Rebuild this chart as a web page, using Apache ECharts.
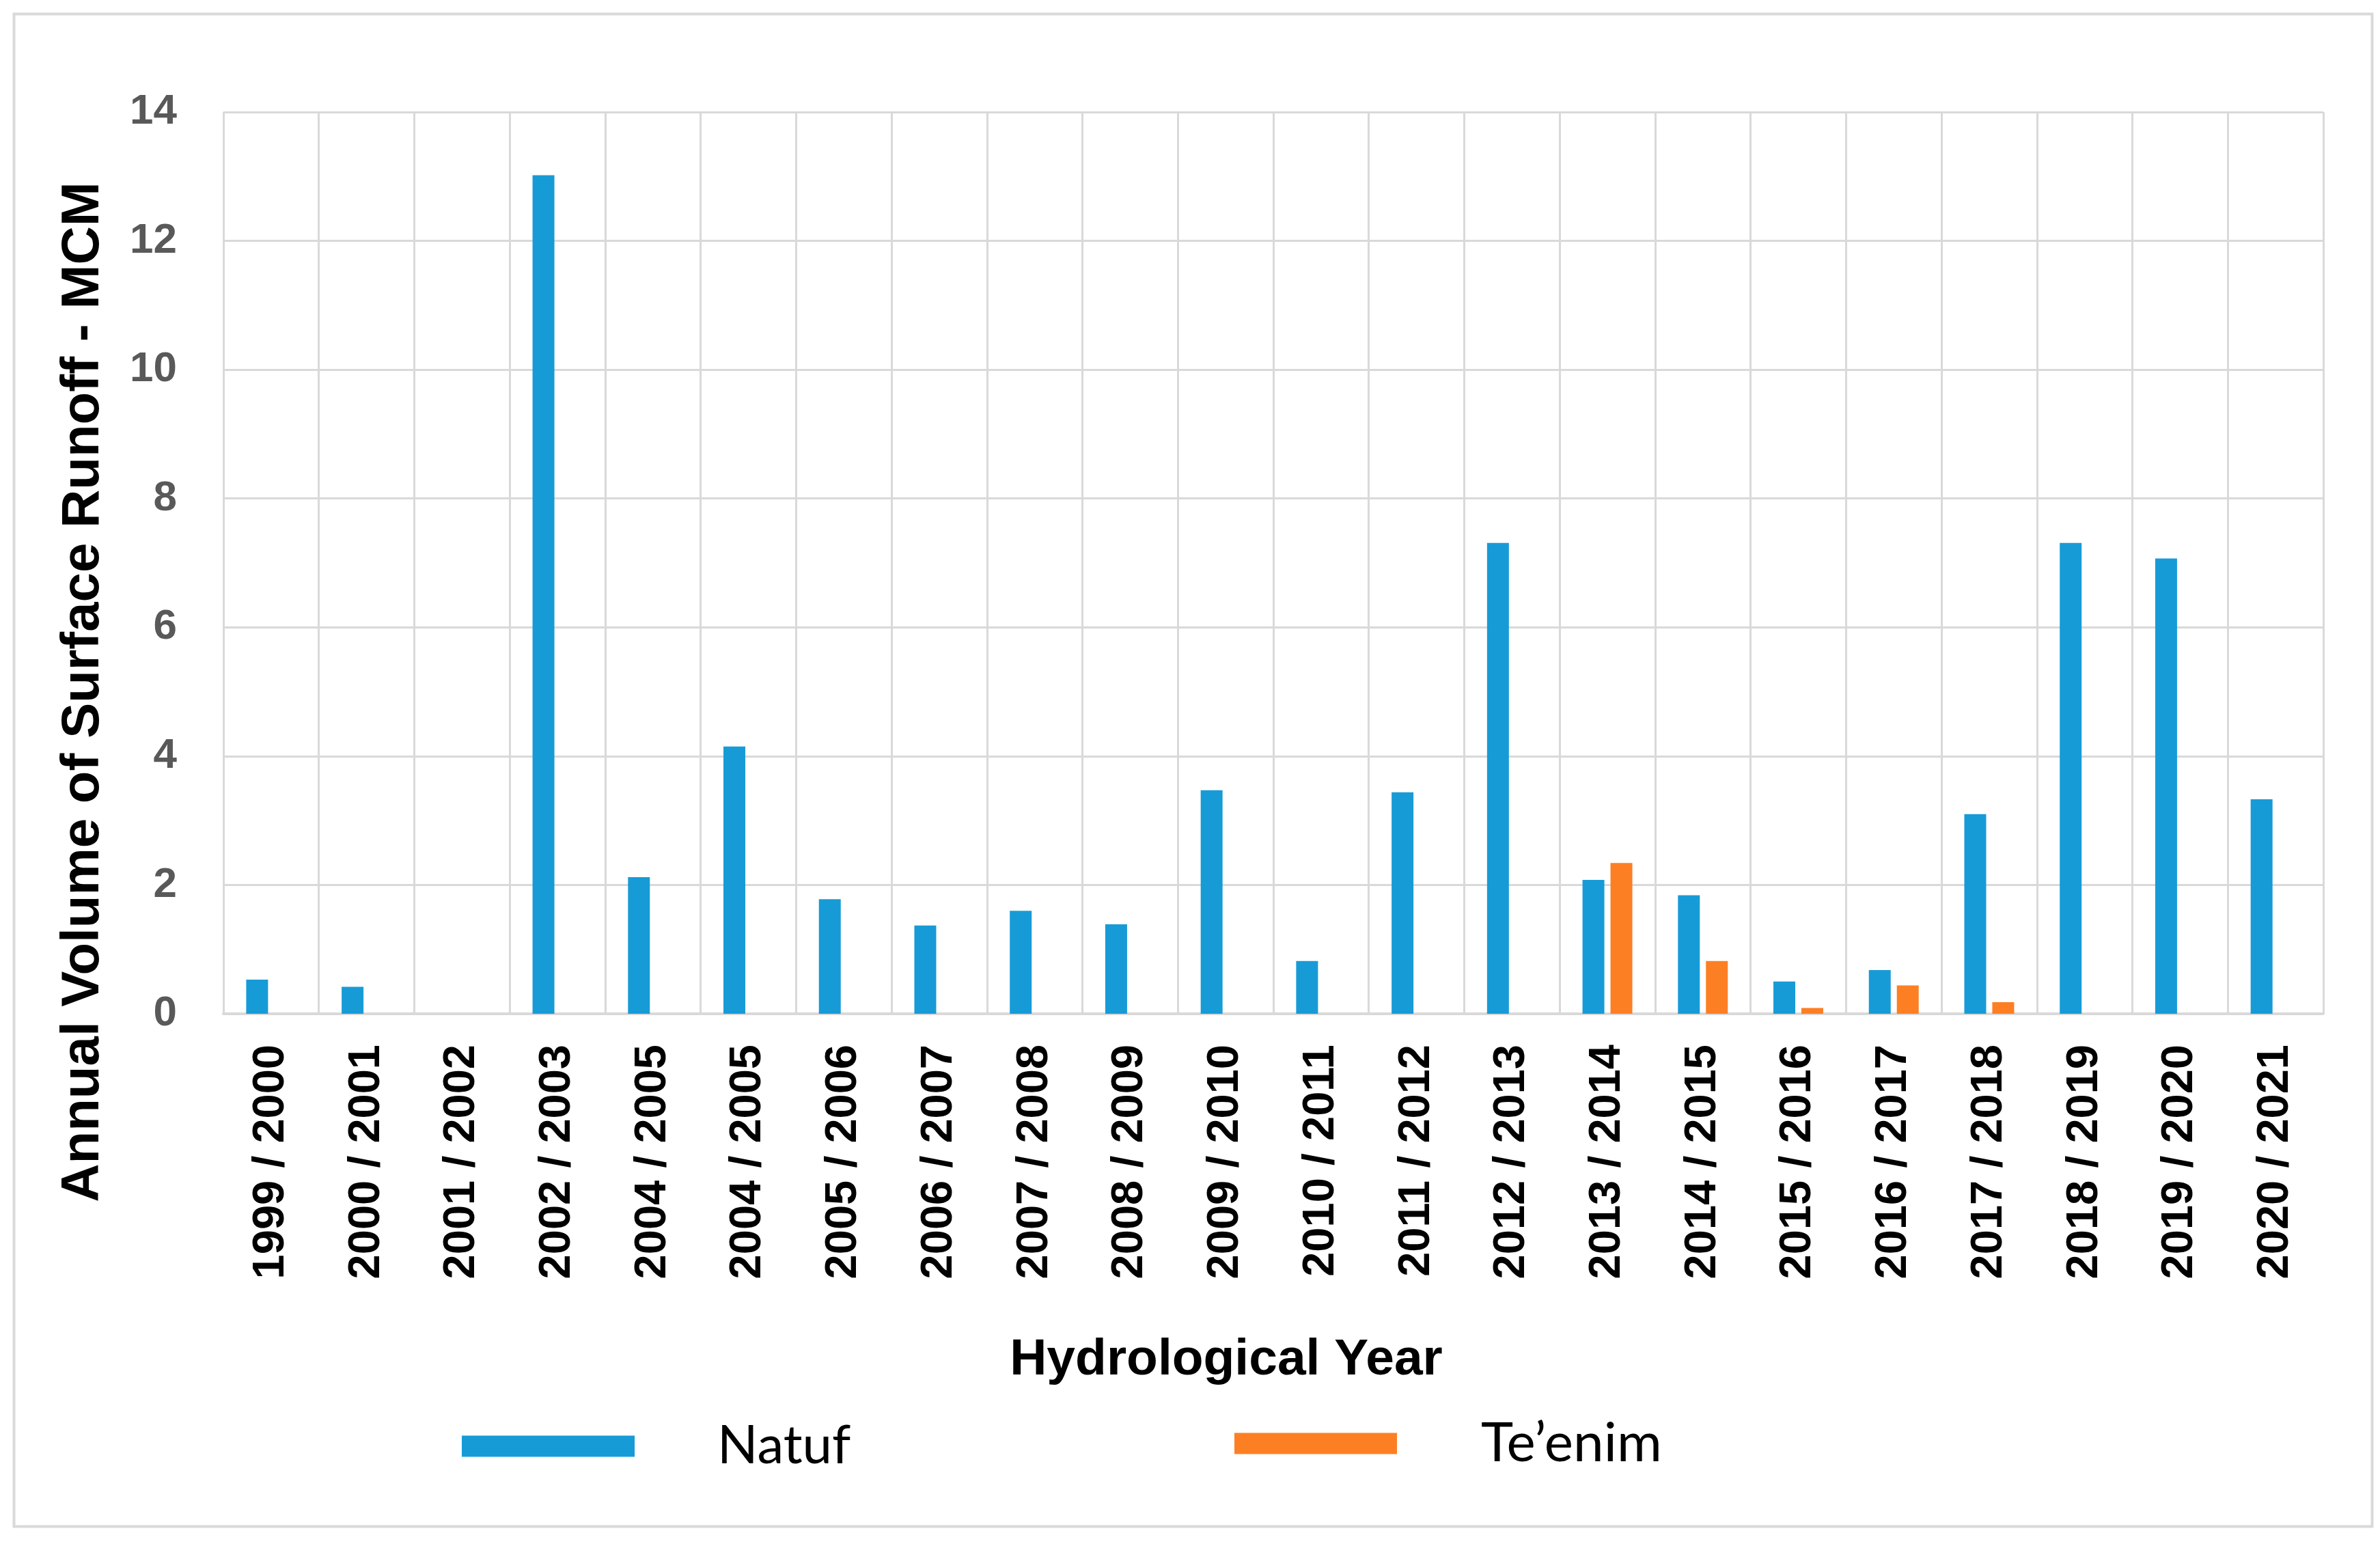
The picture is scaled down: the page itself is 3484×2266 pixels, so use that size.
<!DOCTYPE html>
<html>
<head>
<meta charset="utf-8">
<script src="https://cdn.jsdelivr.net/npm/echarts@6/dist/echarts.min.js"></script>
<style>
html,body{margin:0;padding:0;background:#fff;}
#chart{width:3484px;height:2266px;}
</style>
</head>
<body>
<div id="chart"></div>
<script>
const categories = ['1999 / 2000','2000 / 2001','2001 / 2002','2002 / 2003','2004 / 2005','2004 / 2005','2005 / 2006','2006 / 2007','2007 / 2008','2008 / 2009','2009 / 2010','2010 / 2011','2011 / 2012','2012 / 2013','2013 / 2014','2014 / 2015','2015 / 2016','2016 / 2017','2017 / 2018','2018 / 2019','2019 / 2020','2020 / 2021'];
const natuf   = [0.53, 0.42, 0, 13.02, 2.12, 4.15, 1.78, 1.37, 1.60, 1.39, 3.47, 0.82, 3.44, 7.31, 2.08, 1.84, 0.50, 0.68, 3.10, 7.31, 7.07, 3.33];
const teenim  = [0, 0, 0, 0, 0, 0, 0, 0, 0, 0, 0, 0, 0, 0, 2.34, 0.82, 0.09, 0.44, 0.18, 0, 0, 0];
const yTicks  = { min: 0, max: 14, interval: 2 };

const chart = echarts.init(document.getElementById('chart'));
const gridColor = '#d9d9d9';
chart.setOption({
  backgroundColor: '#ffffff',
  animation: false,
  graphic: [{
    type: 'rect', left: 18, top: 18,
    shape: { width: 3452, height: 2214 },
    style: { fill: 'none', stroke: '#d9d9d9', lineWidth: 4 }
  }],
  grid: { left: 327, right: 83, top: 164, bottom: 782, containLabel: false },
  legend: [
    {
      data: ['Natuf'], left: 671, top: 2073, itemWidth: 253, itemHeight: 31,
      icon: 'rect',
      textStyle: { fontFamily: 'Lato', fontSize: 78, color: '#000', padding: [0,0,0,116] }
    },
    {
      data: ['Te\u2019enim'], left: 1802, top: 2068, itemWidth: 238, itemHeight: 31,
      icon: 'rect',
      textStyle: { fontFamily: 'Lato', fontSize: 80, color: '#000', padding: [0,0,0,118] }
    }
  ],
  xAxis: {
    type: 'category',
    data: categories,
    boundaryGap: true,
    name: 'Hydrological Year',
    nameLocation: 'middle',
    nameGap: 470,
    nameTextStyle: { fontFamily: 'Liberation Sans', fontWeight: 'bold', fontSize: 75, color: '#000', padding: [0, 138, 0, 0] },
    axisLine: { show: true, lineStyle: { color: gridColor, width: 4 } },
    axisTick: { show: false },
    splitLine: { show: true, lineStyle: { color: gridColor, width: 3 } },
    axisLabel: {
      rotate: 90, interval: 0, margin: 45,
      fontFamily: 'Liberation Sans', fontWeight: 'bold', fontSize: 65, color: '#000'
    }
  },
  yAxis: {
    type: 'value',
    min: yTicks.min, max: yTicks.max, interval: yTicks.interval,
    name: 'Annual Volume of Surface Runoff - MCM',
    nameLocation: 'middle',
    nameGap: 166,
    nameTextStyle: { fontFamily: 'Liberation Sans', fontWeight: 'bold', fontSize: 78, color: '#000', padding: [0, 378, 0, 0] },
    axisLine: { show: false },
    axisTick: { show: false },
    splitLine: { show: true, lineStyle: { color: gridColor, width: 3 } },
    axisLabel: {
      margin: 68,
      fontFamily: 'Liberation Sans', fontWeight: 'bold', fontSize: 62, color: '#595959'
    }
  },
  series: [
    {
      name: 'Natuf', type: 'bar', data: natuf,
      barWidth: 32, barGap: '28%',
      itemStyle: { color: '#179bd7' }
    },
    {
      name: 'Te\u2019enim', type: 'bar', data: teenim,
      barWidth: 32,
      itemStyle: { color: '#fd7f23' }
    }
  ]
});
</script>
</body>
</html>
